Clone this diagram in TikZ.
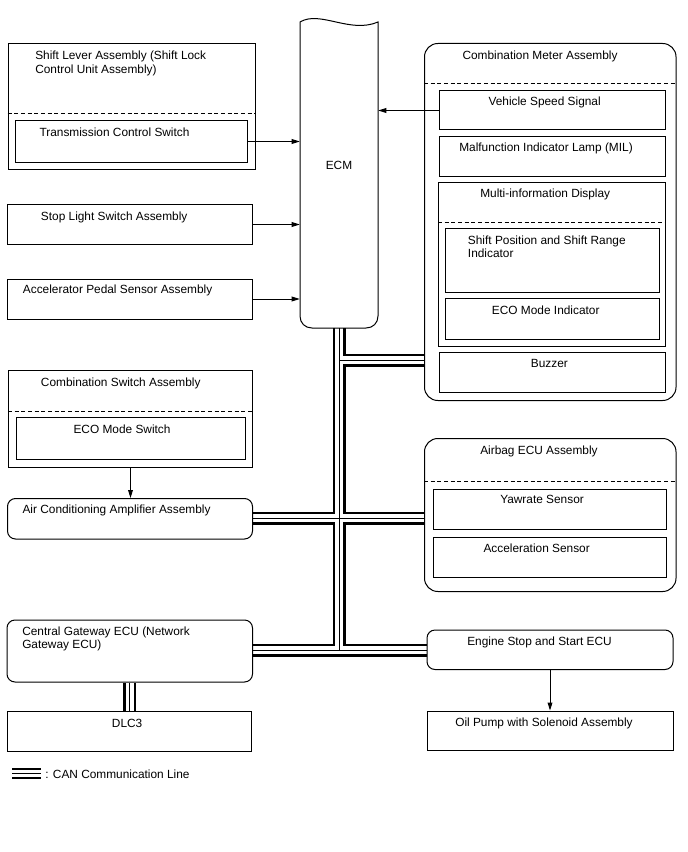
\documentclass[tikz,border=0pt]{standalone}
\usepackage{fontspec}
\setmainfont{Liberation Sans}
\usetikzlibrary{arrows.meta,fit,backgrounds}
\begin{document}
\begin{tikzpicture}[x=0.75pt,y=-0.75pt,
  box/.style={draw, line width=0.75pt, inner sep=0pt},
  rbox/.style={box, rounded corners=6pt},
  bigr/.style={box, rounded corners=10pt},
  txt/.style={inner sep=0pt, anchor=base west, font=\fontsize{8.9pt}{10pt}\selectfont},
  divider/.style={line width=0.75pt, dash pattern=on 3pt off 2pt},
  arr/.style={line width=0.75pt, -{Triangle[length=6pt,width=3.6pt]}}]
\useasboundingbox (0,0) rectangle (688,852);

% ---------- left column ----------
\node[box, fit={(8,43.5)(255,170)}] (sla) {};
\coordinate (d1) at (0,114);
\draw[divider] (sla.west |- d1) -- (sla.east |- d1);
\node[box, fit={(15,120.5)(247.5,162.5)}] (tcs) {};
\node[txt] (tsla1) at (35,59.8) {Shift Lever Assembly (Shift Lock};
\node[txt] (tsla2) at (35,73.2) {Control Unit Assembly)};
\node[txt] (ttcs) at (39.3,136.5) {Transmission Control Switch};

\node[box, fit={(7.5,204.5)(252.5,244.5)}] (sls) {};
\node[txt] (tsls) at (40.7,220.5) {Stop Light Switch Assembly};

\node[box, fit={(7.5,279)(252.5,319)}] (aps) {};
\node[txt] (taps) at (22.7,293.2) {Accelerator Pedal Sensor Assembly};

\node[box, fit={(8.5,370)(252.5,467.5)}] (cs) {};
\coordinate (d2) at (0,411.5);
\draw[divider] (cs.west |- d2) -- (cs.east |- d2);
\node[box, fit={(16.5,417.5)(245,459.5)}] (ecos) {};
\node[txt] (tcsa) at (40.7,386.2) {Combination Switch Assembly};
\node[txt] (tecos) at (73.3,433.2) {ECO Mode Switch};

\node[rbox, fit={(7.5,498.5)(252.5,539)}] (ac) {};
\node[txt] (tac) at (22.3,513.8) {Air Conditioning Amplifier Assembly};

\node[rbox, fit={(7,620)(252.5,682)}] (gw) {};
\node[txt] (tgw1) at (22,635.5) {Central Gateway ECU (Network};
\node[txt] (tgw2) at (22,648.9) {Gateway ECU)};

\node[box, fit={(7,711)(251.5,751)}] (dlc) {};
\node[txt] (tdlc) at (111.7,727.2) {DLC3};

% ---------- ECM ----------
\node[inner sep=0pt, fit={(300,22)(378,328)}] (ecm) {};
\draw[line width=0.75pt] (378,22) -- (378,316) .. controls (378,323) and (373,328) .. (366,328)
  -- (312,328) .. controls (305,328) and (300,323) .. (300,316) -- (300,22)
  .. controls (320,10) and (350,34) .. (378,22) -- cycle;
\node[txt, anchor=base] (tecm) at (339,170) {ECM};

% ---------- combination meter ----------
\node[bigr, fit={(424.5,43.5)(676,400.5)}] (cm) {};
\coordinate (d3) at (0,83.5);
\draw[divider] (cm.west |- d3) -- (cm.east |- d3);
\node[txt] (tcm) at (462.3,59.8) {Combination Meter Assembly};
\node[box, fit={(439,91)(665.5,130)}] (vss) {};
\node[txt] (tvss) at (488.3,105.5) {Vehicle Speed Signal};
\node[box, fit={(439,136.5)(665.5,176.5)}] (mil) {};
\node[txt] (tmil) at (459,151.2) {Malfunction Indicator Lamp (MIL)};
\node[box, fit={(438.5,183)(665.5,346)}] (mid) {};
\coordinate (d4) at (0,222.5);
\draw[divider] (mid.west |- d4) -- (mid.east |- d4);
\node[txt] (tmid) at (480,197.8) {Multi-information Display};
\node[box, fit={(445,229)(659,292)}] (spi) {};
\node[txt] (tspi1) at (467.7,244.5) {Shift Position and Shift Range};
\node[txt] (tspi2) at (467.7,257.8) {Indicator};
\node[box, fit={(445,298.5)(659,339.5)}] (eco) {};
\node[txt] (teco) at (491.7,314.5) {ECO Mode Indicator};
\node[box, fit={(439,352)(665.5,392.5)}] (buz) {};
\node[txt] (tbuz) at (530.7,367.8) {Buzzer};

% ---------- airbag ----------
\node[bigr, fit={(424.5,438.5)(676,591.5)}] (ab) {};
\coordinate (d5) at (0,481);
\draw[divider] (ab.west |- d5) -- (ab.east |- d5);
\node[txt] (tab) at (480,454.5) {Airbag ECU Assembly};
\node[box, fit={(433.5,489)(666,529)}] (yaw) {};
\node[txt] (tyaw) at (500,503.8) {Yawrate Sensor};
\node[box, fit={(433.5,537.5)(666,577.5)}] (acc) {};
\node[txt] (tacc) at (483.3,552.2) {Acceleration Sensor};

% ---------- engine stop / oil pump ----------
\node[rbox, fit={(427,630)(673,669.5)}] (es) {};
\node[txt] (tes) at (467,645) {Engine Stop and Start ECU};
\node[box, fit={(427,711)(673,750.5)}] (op) {};
\node[txt] (top) at (455,726) {Oil Pump with Solenoid Assembly};

% ---------- signal arrows ----------
\draw[arr] (tcs.east) -- (tcs.east -| ecm.west);
\draw[arr] (vss.west) -- (vss.west -| ecm.east);
\draw[arr] (sls.east) -- (sls.east -| ecm.west);
\draw[arr] (aps.east) -- (aps.east -| ecm.west);
\draw[arr] (cs.south) -- (cs.south |- ac.north);
\draw[arr] (es.south) -- (es.south |- op.north);

% ---------- CAN bus ----------
\coordinate (j1) at (339,360);
\coordinate (j2) at (339,518);
\coordinate (j3) at (339,650);
\def\buspaths{(ecm.south) -- (j3)
  (j1) -- (j1 -| cm.west)
  (j2 -| ac.east) -- (j2 -| ab.west)
  (j3 -| gw.east) -- (j3 -| es.west)
  (gw.south) -- (gw.south |- dlc.north)}
\begin{scope}[on background layer]
  \draw[line width=9.75pt] \buspaths;
  \draw[line width=6pt, white] \buspaths;
  \draw[line width=0.75pt] \buspaths;
\end{scope}

% ---------- legend ----------
\coordinate (lg1) at (12,769);
\coordinate (lg2) at (12,773.5);
\coordinate (lg3) at (12,778);
\draw[line width=1.4pt] (lg1) -- ++(29,0) (lg2) -- ++(29,0) (lg3) -- ++(29,0);
\node[txt] (tlg) at (45,778) {: CAN Communication Line};
\end{tikzpicture}
\end{document}
